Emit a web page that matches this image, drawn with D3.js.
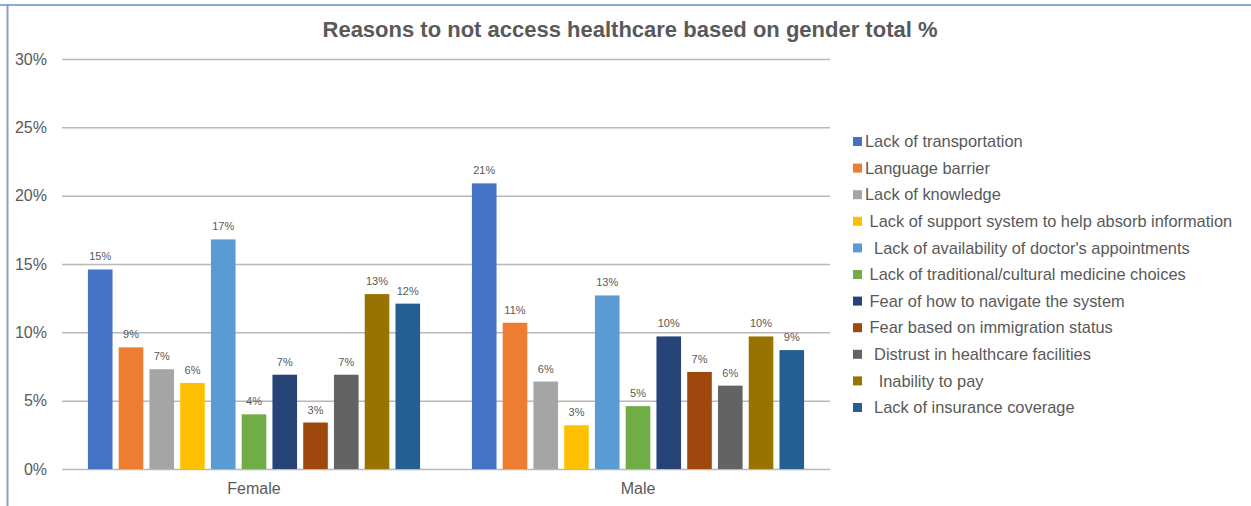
<!DOCTYPE html>
<html>
<head>
<meta charset="utf-8">
<script src="https://cdn.jsdelivr.net/npm/d3@7"></script>
<style>
  html, body { margin: 0; padding: 0; background: #fff; }
  svg { display: block; font-family: "Liberation Sans", Arial, Helvetica, sans-serif; }
  .legend text { white-space: pre; }
</style>
</head>
<body>
<svg id="chart" width="1251" height="506"></svg>
<script>
// Survey shares (fraction of respondents) by gender and reason
const genders = ["Female", "Male"];
const reasons = [
  "Lack of transportation",
  "Language barrier",
  "Lack of knowledge",
  " Lack of support system to help absorb information",
  "  Lack of availability of doctor's appointments",
  " Lack of traditional/cultural medicine choices",
  " Fear of how to navigate the system",
  " Fear based on immigration status",
  "  Distrust in healthcare facilities",
  "   Inability to pay",
  "  Lack of insurance coverage"
];
const femaleValues = [0.146, 0.089, 0.073, 0.063, 0.168, 0.040, 0.069, 0.034, 0.069, 0.128, 0.121];
const maleValues   = [0.209, 0.107, 0.064, 0.032, 0.127, 0.046, 0.097, 0.071, 0.061, 0.097, 0.087];
const colors = ["#4472C4", "#ED7D31", "#A5A5A5", "#FFC000", "#5B9BD5", "#70AD47",
                "#264478", "#9E480E", "#636363", "#997300", "#255E91"];
const yTicks = [0, 0.05, 0.10, 0.15, 0.20, 0.25, 0.30];
const titleText = "Reasons to not access healthcare based on gender total %";

const seriesByGender = { Female: femaleValues, Male: maleValues };

const svg = d3.select("#chart");
const W = 1251, H = 506;
const plot = { left: 62, right: 830, top: 59, bottom: 469 };

// frame
svg.append("line").attr("x1", 0).attr("x2", W).attr("y1", 5).attr("y2", 5)
  .attr("stroke", "#8eaadb").attr("stroke-width", 2);
svg.append("line").attr("x1", 7.5).attr("x2", 7.5).attr("y1", 4).attr("y2", H)
  .attr("stroke", "#8f9fc0").attr("stroke-width", 2);

// title
svg.append("text")
  .attr("x", 630).attr("y", 37)
  .attr("text-anchor", "middle")
  .attr("font-size", 22).attr("font-weight", "bold")
  .attr("fill", "#595959")
  .text(titleText);

const y = d3.scaleLinear().domain([0, 0.30]).range([plot.bottom, plot.top]);
const x0 = d3.scaleBand().domain(genders).range([plot.left, plot.right])
  .paddingInner(0.135).paddingOuter(0.0675);
const x1 = d3.scaleBand().domain(d3.range(reasons.length)).range([0, x0.bandwidth()])
  .paddingInner(0.2).paddingOuter(0);

// gridlines + y labels
const yAxis = d3.axisLeft(y).tickValues(yTicks).tickFormat(d3.format(".0%"))
  .tickSize(-(plot.right - plot.left)).tickPadding(15);
const gy = svg.append("g").attr("transform", `translate(${plot.left},0)`).call(yAxis);
gy.select(".domain").remove();
gy.selectAll(".tick line").attr("stroke", "#b8b8b8").attr("stroke-width", 1.5);
gy.selectAll(".tick text").attr("fill", "#595959").attr("font-size", 16)
  .attr("font-family", "Liberation Sans, Arial, sans-serif");

// x labels
const xAxis = d3.axisBottom(x0).tickSize(0).tickPadding(14);
const gx = svg.append("g").attr("transform", `translate(0,${plot.bottom})`).call(xAxis);
gx.select(".domain").remove();
gx.selectAll(".tick text").attr("fill", "#595959").attr("font-size", 16)
  .attr("font-family", "Liberation Sans, Arial, sans-serif");

// bars
const fmt = d3.format(".0%");
const groups = svg.append("g").selectAll("g").data(genders).join("g")
  .attr("transform", d => `translate(${x0(d)},0)`);

groups.selectAll("rect")
  .data(g => seriesByGender[g].map((v, i) => ({ i, v })))
  .join("rect")
  .attr("x", d => x1(d.i))
  .attr("width", x1.bandwidth())
  .attr("y", d => y(d.v))
  .attr("height", d => y(0) - y(d.v))
  .attr("fill", d => colors[d.i]);

groups.selectAll("text.val")
  .data(g => seriesByGender[g].map((v, i) => ({ i, v })))
  .join("text")
  .attr("class", "val")
  .attr("x", d => x1(d.i) + x1.bandwidth() / 2)
  .attr("y", d => y(d.v) - 9)
  .attr("text-anchor", "middle")
  .attr("font-size", 11)
  .attr("fill", "#595959")
  .text(d => fmt(d.v));

// legend
const legend = svg.append("g").attr("class", "legend");
const rowY = i => 141.5 + i * 26.6;
reasons.forEach((r, i) => {
  legend.append("rect")
    .attr("x", 853).attr("y", rowY(i) - 4.5)
    .attr("width", 9).attr("height", 9)
    .attr("fill", colors[i]);
  legend.append("text")
    .attr("x", 865).attr("y", rowY(i))
    .attr("dy", "0.35em")
    .attr("font-size", 16.4)
    .attr("fill", "#595959")
    .text(r);
});
</script>
</body>
</html>
